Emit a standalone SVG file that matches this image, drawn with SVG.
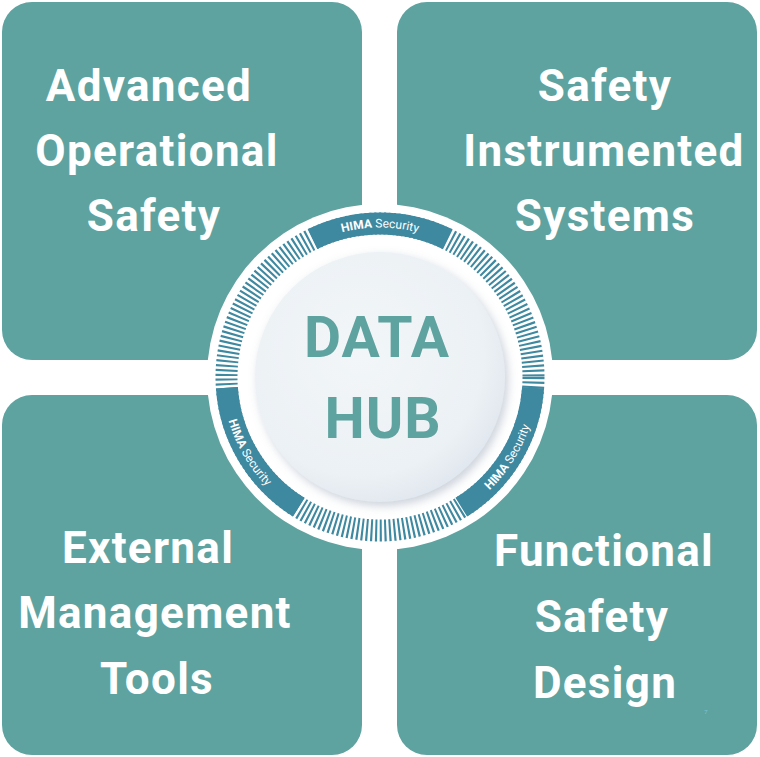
<svg xmlns="http://www.w3.org/2000/svg" width="760" height="757" viewBox="0 0 760 757">
<defs>
<style>
.tile{fill:#5ea3a0}
.lbl{font-family:Roboto,"Liberation Sans",sans-serif;font-weight:700;font-size:44px;letter-spacing:1.3px;fill:#ffffff;text-anchor:middle}
.hub{font-family:Roboto,"Liberation Sans",sans-serif;font-weight:700;font-size:57px;letter-spacing:1px;fill:#5ea3a0;text-anchor:middle}
.ring{font-family:Roboto,"Liberation Sans",sans-serif;font-size:12px;fill:#ffffff}
.band{fill:none;stroke:#3e88a0;stroke-width:22}
</style>
<radialGradient id="disk" cx="0.42" cy="0.4" r="0.62">
<stop offset="0" stop-color="#f2f6f8"/>
<stop offset="0.8" stop-color="#ecf1f5"/>
<stop offset="1" stop-color="#e2e8ef"/>
</radialGradient>
<filter id="sh" x="-20%" y="-20%" width="140%" height="140%">
<feDropShadow dx="3" dy="4" stdDeviation="5" flood-color="#8d9bb0" flood-opacity="0.45"/>
</filter>
<path id="tpTop" d="M283.9,262.5 A149.5,149.5 0 0 1 476.1,262.5"/>
<path id="tpBL" d="M222.5,377 A157.5,157.5 0 0 0 301.25,513.4"/>
<path id="tpBR" d="M453.9,516.1 A157.5,157.5 0 0 0 537.4,382.5"/>
</defs>
<rect x="0" y="0" width="760" height="757" fill="#ffffff"/>

<g id="tile-advanced-operational-safety">
<rect class="tile" x="2" y="2" width="360" height="358" rx="30"/>
<text class="lbl" x="149" y="101">Advanced</text>
<text class="lbl" x="157" y="166">Operational</text>
<text class="lbl" x="154" y="231">Safety</text>
</g>
<g id="tile-safety-instrumented-systems">
<rect class="tile" x="397" y="2" width="360" height="358" rx="30"/>
<text class="lbl" x="605" y="101">Safety</text>
<text class="lbl" x="604" y="166">Instrumented</text>
<text class="lbl" x="605" y="231">Systems</text>
</g>
<g id="tile-external-management-tools">
<rect class="tile" x="2" y="395" width="360" height="360" rx="30"/>
<text class="lbl" x="148" y="563">External</text>
<text class="lbl" x="155" y="628">Management</text>
<text class="lbl" x="157" y="694">Tools</text>
</g>
<g id="tile-functional-safety-design">
<rect class="tile" x="397" y="395" width="360" height="360" rx="30"/>
<text class="lbl" x="604" y="566">Functional</text>
<text class="lbl" x="602" y="632">Safety</text>
<text class="lbl" x="605" y="698">Design</text>
<text x="706" y="714" font-family="Roboto,'Liberation Sans',sans-serif" font-size="6" fill="#7cc3d6" text-anchor="middle">7</text>
</g>

<g id="data-hub">
<circle cx="380" cy="377" r="173" fill="#ffffff"/>
<circle cx="380" cy="377" r="153.5" fill="none" stroke="#3e88a0" stroke-width="22" stroke-dasharray="2.1 2.5"/>
<path class="band" d="M312.7,239 A153.5,153.5 0 0 1 447.3,239"/>
<path class="band" d="M533.1,387.7 A153.5,153.5 0 0 1 461.3,507.2"/>
<path class="band" d="M298.7,507.2 A153.5,153.5 0 0 1 226.9,387.7"/>
<text class="ring"><textPath href="#tpTop" startOffset="50%" text-anchor="middle"><tspan font-weight="700">HIMA</tspan> Security</textPath></text>
<text class="ring"><textPath href="#tpBL" startOffset="50%" text-anchor="middle"><tspan font-weight="700">HIMA</tspan> Security</textPath></text>
<text class="ring"><textPath href="#tpBR" startOffset="50%" text-anchor="middle"><tspan font-weight="700">HIMA</tspan> Security</textPath></text>
<circle cx="380" cy="377" r="125" fill="url(#disk)" filter="url(#sh)"/>
<text class="hub" x="377" y="357">DATA</text>
<text class="hub" x="383" y="438">HUB</text>
</g>
<g id="connectors"/>
</svg>
